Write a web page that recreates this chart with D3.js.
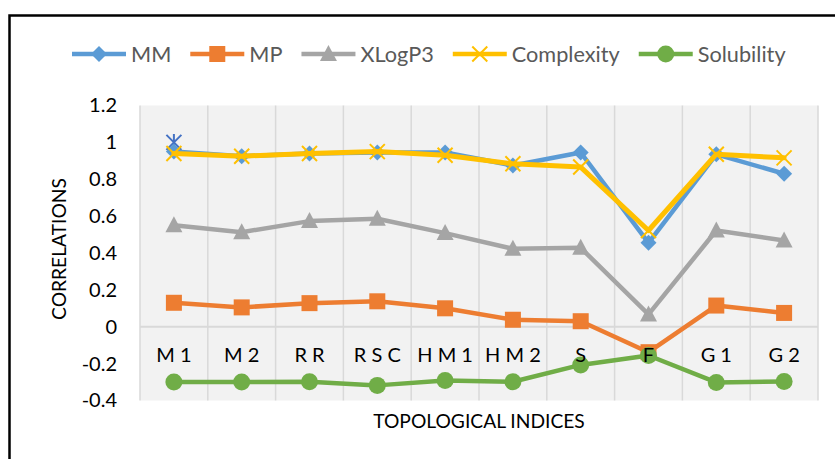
<!DOCTYPE html>
<html>
<head>
<meta charset="utf-8">
<script src="https://cdn.jsdelivr.net/npm/d3@7"></script>
<style>
  html, body { margin: 0; padding: 0; background: #fff; }
  svg { display: block; font-family: Lato, "Open Sans", sans-serif; }
</style>
</head>
<body>
<svg id="chart" width="835" height="459"></svg>
<script>
// ---------- data ----------
const categories = ["M 1", "M 2", "R R", "R S C", "H M 1", "H M 2", "S", "F", "G 1", "G 2"];
const mm         = [0.95, 0.925, 0.94, 0.945, 0.945, 0.875, 0.945, 0.455, 0.935, 0.83];
const mp         = [0.13, 0.105, 0.128, 0.138, 0.10, 0.038, 0.03, -0.138, 0.115, 0.075];
const xlogp3     = [0.55, 0.513, 0.573, 0.586, 0.508, 0.423, 0.428, 0.067, 0.522, 0.468];
const complexity = [0.94, 0.925, 0.94, 0.95, 0.93, 0.884, 0.866, 0.522, 0.936, 0.916];
const solubility = [-0.30, -0.30, -0.298, -0.318, -0.291, -0.298, -0.207, -0.156, -0.302, -0.297];
const strayStar  = [1.0, null, null, null, null, null, null, null, null, null];
const seriesNames = ["MM", "MP", "XLogP3", "Complexity", "Solubility"];
const yTicks      = [-0.4, -0.2, 0, 0.2, 0.4, 0.6, 0.8, 1, 1.2];
const yTickLabels = ["-0.4", "-0.2", "0", "0.2", "0.4", "0.6", "0.8", "1", "1.2"];
const yTitle = "CORRELATIONS";
const xTitle = "TOPOLOGICAL INDICES";

// ---------- styles ----------
const colors  = { MM: "#5B9BD5", MP: "#ED7D31", XLogP3: "#A5A5A5", Complexity: "#FFC000", Solubility: "#70AD47", star: "#4472C4" };
const markers = { MM: "diamond", MP: "square", XLogP3: "triangle", Complexity: "x", Solubility: "circle" };
const seriesData = { MM: mm, MP: mp, XLogP3: xlogp3, Complexity: complexity, Solubility: solubility };

const svg = d3.select("#chart");
const W = 835, H = 459;
const plot = { left: 140, right: 818, top: 105.5, bottom: 400.5 };

// outer frame
svg.append("rect").attr("x", 9.5).attr("y", 15.5).attr("width", 900).attr("height", 500)
  .attr("fill", "none").attr("stroke", "#000").attr("stroke-width", 2.5);

const x = d3.scaleBand().domain(categories).range([plot.left, plot.right]).paddingInner(0).paddingOuter(0);
const y = d3.scaleLinear().domain([-0.4, 1.2]).range([plot.bottom, plot.top]);

// plot background
svg.append("rect").attr("x", plot.left).attr("y", plot.top)
  .attr("width", plot.right - plot.left).attr("height", plot.bottom - plot.top)
  .attr("fill", "#F2F2F2");

// vertical gridlines at category boundaries
const bounds = categories.map(c => x(c)).concat([x(categories[categories.length - 1]) + x.bandwidth()]);
svg.append("g").selectAll("line").data(bounds).join("line")
  .attr("x1", d => d).attr("x2", d => d)
  .attr("y1", plot.top).attr("y2", plot.bottom)
  .attr("stroke", "#D9D9D9").attr("stroke-width", 1.5);

// zero line
svg.append("line").attr("x1", plot.left).attr("x2", plot.right)
  .attr("y1", y(0)).attr("y2", y(0)).attr("stroke", "#D9D9D9").attr("stroke-width", 2);

// ---------- markers ----------
function drawMarker(g, type, cx, cy, color) {
  if (type === "diamond") {
    const r = 8;
    g.append("path").attr("d", `M${cx},${cy - r}L${cx + r},${cy}L${cx},${cy + r}L${cx - r},${cy}Z`).attr("fill", color);
  } else if (type === "square") {
    const s = 16;
    g.append("rect").attr("x", cx - s / 2).attr("y", cy - s / 2).attr("width", s).attr("height", s).attr("fill", color);
  } else if (type === "triangle") {
    const w = 17, h = 16;
    g.append("path").attr("d", `M${cx},${cy - h / 2 - 1}L${cx + w / 2},${cy + h / 2 - 1}L${cx - w / 2},${cy + h / 2 - 1}Z`).attr("fill", color);
  } else if (type === "circle") {
    g.append("circle").attr("cx", cx).attr("cy", cy).attr("r", 8.5).attr("fill", color);
  } else if (type === "x") {
    const r = 7.5;
    g.append("path").attr("d", `M${cx - r},${cy - r}L${cx + r},${cy + r}M${cx + r},${cy - r}L${cx - r},${cy + r}`)
      .attr("stroke", color).attr("stroke-width", 2).attr("fill", "none");
  } else if (type === "star") {
    const r = 7.5;
    g.append("path").attr("d", `M${cx - r},${cy - r}L${cx + r},${cy + r}M${cx + r},${cy - r}L${cx - r},${cy + r}M${cx},${cy - r - 1}L${cx},${cy + r + 1}`)
      .attr("stroke", color).attr("stroke-width", 2).attr("fill", "none");
  }
}

const cx = c => x(c) + x.bandwidth() / 2;
const lineGen = d3.line().defined(d => d.v !== null).x(d => cx(d.c)).y(d => y(d.v));

const seriesG = svg.append("g");
// stray star point (drawn first, underneath)
strayStar.forEach((v, i) => { if (v !== null) drawMarker(seriesG, "star", cx(categories[i]), y(v), colors.star); });

seriesNames.forEach(name => {
  const pts = seriesData[name].map((v, i) => ({ c: categories[i], v }));
  const g = seriesG.append("g");
  g.append("path").datum(pts).attr("d", lineGen).attr("fill", "none")
    .attr("stroke", colors[name]).attr("stroke-width", name === "Complexity" ? 5 : 4.5)
    .attr("stroke-linejoin", "round").attr("stroke-linecap", "round");
  pts.forEach(p => drawMarker(g, markers[name], cx(p.c), y(p.v), colors[name]));
});

// ---------- axes ----------
const baseFont = 20;
const yAxis = svg.append("g").attr("transform", `translate(${plot.left},0)`)
  .call(d3.axisLeft(y).tickValues(yTicks).tickFormat((d, i) => yTickLabels[i]).tickSize(0).tickPadding(23));
yAxis.select(".domain").remove();
yAxis.selectAll("text").attr("fill", "#000").style("font-family", "Lato, sans-serif").style("font-size", baseFont + "px");

const xAxis = svg.append("g").attr("transform", `translate(0,${y(0)})`)
  .call(d3.axisBottom(x).tickSize(0).tickPadding(21));
xAxis.select(".domain").remove();
xAxis.selectAll("text").attr("fill", "#000").style("font-family", "Lato, sans-serif").style("font-size", baseFont + "px");

// fit font to target width
function fit(sel, target) {
  sel.style("font-size", baseFont + "px");
  const w = sel.node().getComputedTextLength();
  const s = baseFont * target / w;
  sel.style("font-size", s + "px");
  return s;
}

const yt = svg.append("text").text(yTitle)
  .attr("transform", `translate(58,249) rotate(-90)`)
  .attr("text-anchor", "middle").attr("dominant-baseline", "central").attr("fill", "#000");
const titleSize = fit(yt, 142);
svg.append("text").text(xTitle)
  .attr("x", (plot.left + plot.right) / 2).attr("y", 420)
  .attr("text-anchor", "middle").attr("dominant-baseline", "central").attr("fill", "#000")
  .style("font-size", titleSize + "px");

// ---------- legend ----------
const legend = svg.append("g");
const probe = legend.append("text").text("Complexity");
const legSize = fit(probe, 108);
probe.remove();
let lx = 72;
const ly = 54;
seriesNames.forEach(name => {
  const g = legend.append("g");
  g.append("line").attr("x1", lx).attr("x2", lx + 54).attr("y1", ly).attr("y2", ly)
    .attr("stroke", colors[name]).attr("stroke-width", 4.5);
  drawMarker(g, markers[name], lx + 27, ly, colors[name]);
  const t = g.append("text").text(name).attr("x", lx + 59).attr("y", ly)
    .attr("dominant-baseline", "central").attr("fill", "#595959").style("font-size", legSize + "px");
  lx += 59 + t.node().getComputedTextLength() + 19;
});
</script>
</body>
</html>
